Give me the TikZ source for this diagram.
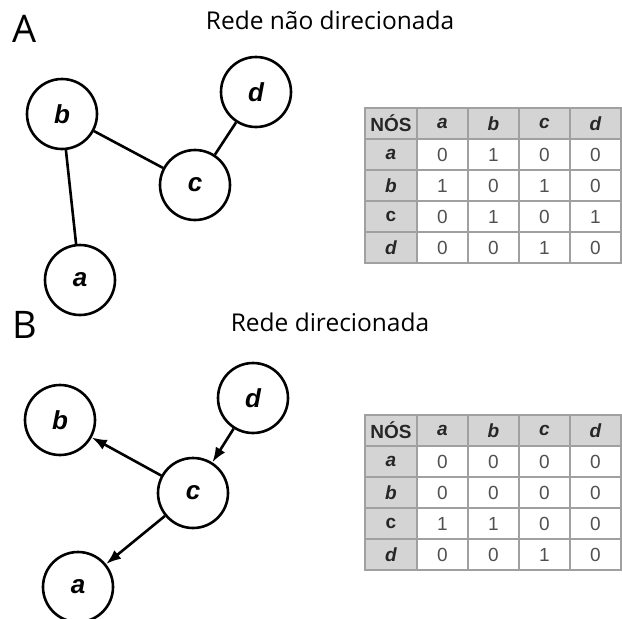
\documentclass[tikz,border=0pt]{standalone}
\usepackage{fontspec}
\setmainfont{Liberation Sans}
\newfontfamily\titlefont{Open Sans}
\usetikzlibrary{positioning,arrows.meta}
\definecolor{cellgray}{RGB}{212,212,212}
\definecolor{gridgray}{RGB}{160,160,160}
\definecolor{numgray}{RGB}{80,80,80}

\begin{document}
\begin{tikzpicture}[
            x=1pt, y=-1pt,
            vertex/.style={draw, circle, line width=2.6pt, minimum size=70pt, inner sep=0pt,
                          font=\fontsize{26}{26}\selectfont\bfseries\itshape},
            edge/.style={line width=2.6pt},
            arrow/.style={edge, -{Latex[length=15pt, width=11pt]}},
            cell/.style={draw=gridgray, line width=1.2pt, minimum width=51pt, minimum height=31pt,
                        inner sep=0pt, text=numgray, font=\fontsize{19}{19}\selectfont},
            head/.style={cell, fill=cellgray, text=black!85,
                        font=\fontsize{19}{19}\selectfont\bfseries\itshape},
            panel/.style={font=\titlefont\fontsize{38}{38}\selectfont},
            title/.style={font=\titlefont\fontsize{24.5}{24.5}\selectfont}
        ]
            \useasboundingbox (0,0) rectangle (622,619);

            % Panel A: undirected network
            \node[panel] (labelA) at (25,29) {A};
            \node[title] (titleA) at (330,20) {Rede não direcionada};
            \node[vertex] (b1) at (62,114) {b};
            \node[vertex] (d1) at (256,92) {d};
            \node[vertex] (c1) at (195,185) {c};
            \node[vertex] (a1) at (80,280) {a};

            \draw[edge] (b1) -- (c1);
            \draw[edge] (c1) -- (d1);
            \draw[edge] (b1) -- (a1);

            % Adjacency table A
            \node[head, minimum width=52pt] (tA-0-0) at (391,123.5) {\upshape NÓS};
            \foreach \h [count=\j] in {a,b,c,d}
                \node[head] (tA-0-\j) at ({442.5+51*(\j-1)},123.5) {\h};
            \foreach \h/\vals [count=\i] in {a/{0,1,0,0}, b/{1,0,1,0}, {\upshape c}/{0,1,0,1}, d/{0,0,1,0}} {
                \node[head, minimum width=52pt] (tA-\i-0) at (391,{123.5+31*\i}) {\h};
                \foreach \v [count=\j] in \vals
                    \node[cell] (tA-\i-\j) at ({442.5+51*(\j-1)},{123.5+31*\i}) {\v};
            }

            % Panel B: directed network
            \node[panel] (labelB) at (25,325) {B};
            \node[title] (titleB) at (330,322) {Rede direcionada};
            \node[vertex] (b2) at (60,420) {b};
            \node[vertex] (d2) at (253,398) {d};
            \node[vertex] (c2) at (193,493) {c};
            \node[vertex] (a2) at (78,587) {a};

            \draw[arrow] (c2) -- (b2);
            \draw[arrow] (d2) -- (c2);
            \draw[arrow] (c2) -- (a2);

            % Adjacency table B
            \node[head, minimum width=52pt] (tB-0-0) at (391,430.5) {\upshape NÓS};
            \foreach \h [count=\j] in {a,b,c,d}
                \node[head] (tB-0-\j) at ({442.5+51*(\j-1)},430.5) {\h};
            \foreach \h/\vals [count=\i] in {a/{0,0,0,0}, b/{0,0,0,0}, {\upshape c}/{1,1,0,0}, d/{0,0,1,0}} {
                \node[head, minimum width=52pt] (tB-\i-0) at (391,{430.5+31*\i}) {\h};
                \foreach \v [count=\j] in \vals
                    \node[cell] (tB-\i-\j) at ({442.5+51*(\j-1)},{430.5+31*\i}) {\v};
            }
        \end{tikzpicture}
\end{document}
